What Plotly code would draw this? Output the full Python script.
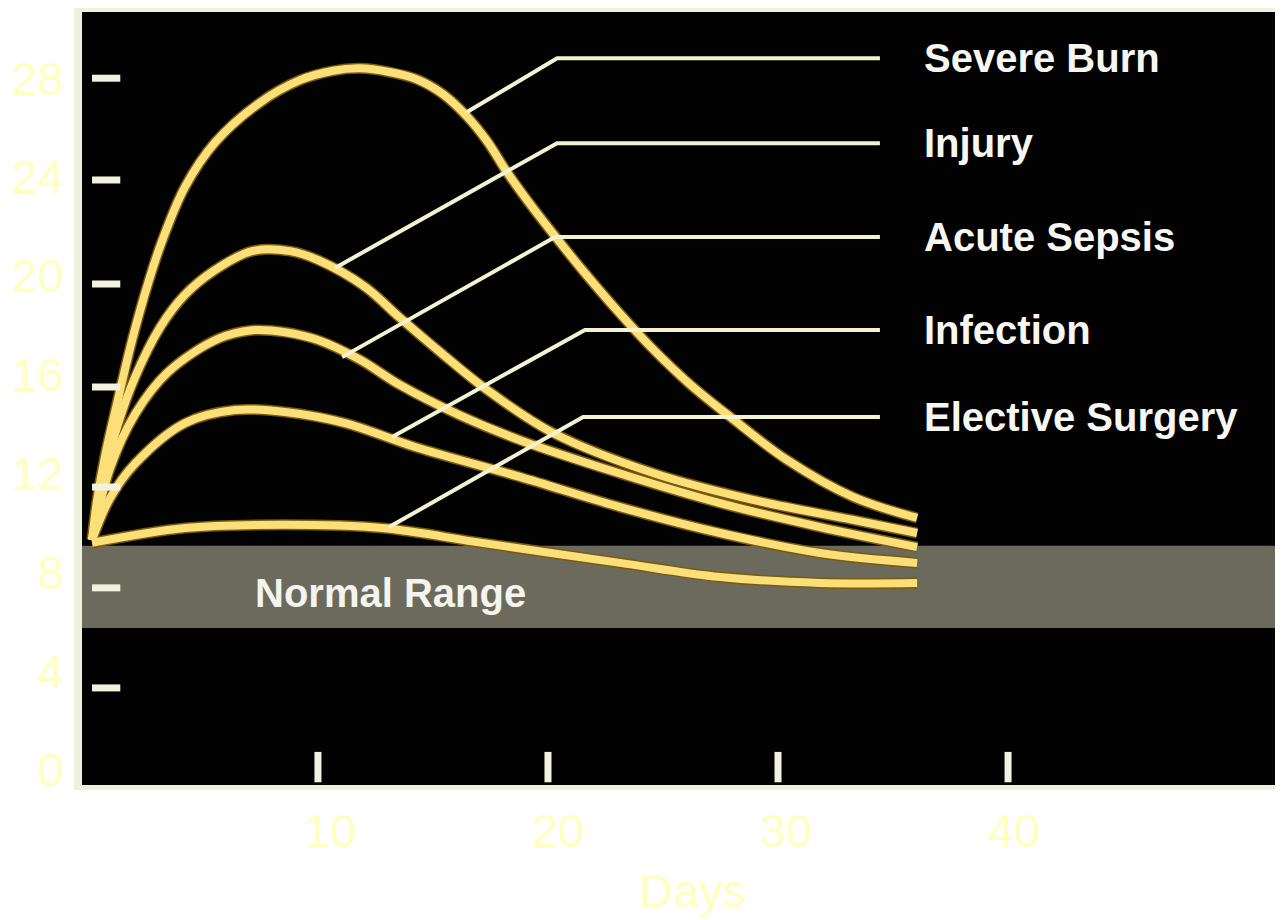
import plotly.graph_objects as go

# ---------------- data ----------------
names = ["Severe Burn", "Injury", "Acute Sepsis", "Infection", "Elective Surgery"]

days_severe_burn = [-0.44, -0.22, 0.13, 0.70, 1.32, 2.02, 2.63, 3.64, 4.96, 6.89, 8.68, 10.13, 11.30,
                    12.60, 13.82, 14.96, 16.01, 16.89, 17.76, 18.90, 20.09, 21.10, 22.59, 24.04,
                    25.80, 27.54, 30.04, 32.94, 35.75]
level_severe_burn = [9.31, 10.90, 12.70, 15.00, 17.40, 19.70, 21.40, 23.60, 25.40, 26.99, 27.92, 28.30,
                     28.40, 28.25, 27.95, 27.35, 26.45, 25.45, 24.20, 22.75, 21.35, 20.20, 18.60, 17.15,
                     15.60, 14.30, 12.55, 11.05, 10.20]

days_injury = [-0.44, 0.10, 0.70, 1.45, 2.54, 3.60, 4.90, 6.58, 8.25, 9.47, 11.54, 13.03, 14.82,
               16.89, 19.78, 24.17, 28.55, 32.94, 35.75]
level_injury = [9.31, 11.90, 14.00, 15.90, 17.90, 19.20, 20.20, 21.00, 21.00, 20.64, 19.55, 18.33, 16.92,
                15.38, 13.64, 12.02, 10.93, 10.12, 9.59]

days_acute_sepsis = [-0.44, 0.35, 1.45, 2.89, 5.09, 6.58, 8.03, 9.47, 11.32, 13.03, 15.70, 18.33,
                     22.72, 27.11, 31.49, 35.75]
level_acute_sepsis = [9.31, 12.20, 14.40, 16.10, 17.45, 17.80, 17.72, 17.40, 16.60, 15.60, 14.35, 13.35,
                      12.00, 10.80, 9.83, 9.02]

days_infection = [-0.44, 0.35, 1.45, 3.64, 5.83, 8.03, 10.66, 13.73, 18.33, 22.72, 27.11, 31.49, 35.75]
level_infection = [9.31, 11.00, 12.40, 14.04, 14.57, 14.49, 14.04, 13.07, 11.86, 10.64, 9.59, 8.78, 8.38]

days_elective_surgery = [-0.44, 3.64, 7.89, 12.28, 16.67, 22.72, 27.11, 31.49, 35.75]
level_elective_surgery = [9.19, 9.79, 9.92, 9.79, 9.19, 8.38, 7.81, 7.57, 7.57]

# leader lines: point on curve -> elbow -> horizontal end
leader_start_day = [16.01, 10.22, 10.53, 12.72, 12.59]
leader_start_level = [26.63, 20.32, 16.71, 13.48, 9.83]
leader_elbow_day = [19.96, 19.96, 19.87, 21.18, 21.10]
leader_level = [28.81, 25.37, 21.57, 17.81, 14.29]
leader_end_day = 34.12

# normal range band
normal_low = 5.75
normal_high = 9.07

# axis ticks (labels) and the printed tick marks of the original slide
x_ticks = [10, 20, 30, 40]
y_ticks = [0, 4, 8, 12, 16, 20, 24, 28]
slide_tick_days = [9.47, 19.56, 29.65, 39.74]
slide_tick_levels = [28.0, 23.88, 19.67, 15.50, 11.45, 7.37, 3.32]

# ---------------- figure ----------------
curve_days = [days_severe_burn, days_injury, days_acute_sepsis, days_infection, days_elective_surgery]
curve_levels = [level_severe_burn, level_injury, level_acute_sepsis, level_infection, level_elective_surgery]

fig = go.Figure()

# soft glow under curves
for nm, xs, ys in zip(names, curve_days, curve_levels):
    fig.add_trace(go.Scatter(x=xs, y=ys, mode="lines", line=dict(color="#7a5a10", width=11, shape="spline"),
                             hoverinfo="skip", showlegend=False))
for nm, xs, ys in zip(names, curve_days, curve_levels):
    fig.add_trace(go.Scatter(x=xs, y=ys, mode="lines", name=nm,
                             line=dict(color="#FBE07A", width=8, shape="spline"), showlegend=False))

# leader lines
for nm, sx, sy, ex, ly in zip(names, leader_start_day, leader_start_level, leader_elbow_day, leader_level):
    fig.add_trace(go.Scatter(x=[sx, ex, leader_end_day], y=[sy, ly, ly], mode="lines",
                             line=dict(color="#F3F3D4", width=4), hoverinfo="skip", showlegend=False))

label_day = 35.95
for nm, ly in zip(names, leader_level):
    fig.add_annotation(x=label_day, y=ly, text=nm, showarrow=False, xanchor="left", yanchor="middle",
                       font=dict(family="Liberation Sans, Arial, sans-serif", size=40, color="#F7F7F2",
                                 weight="bold"))

fig.add_annotation(x=6.6, y=(normal_low + normal_high) / 2 - 0.25, text="Normal Range", showarrow=False,
                   xanchor="left", yanchor="middle",
                   font=dict(family="Liberation Sans, Arial, sans-serif", size=40, color="#F4F4EE", weight="bold"))

tick_font = dict(family="Liberation Sans Narrow, Arial Narrow, Liberation Sans, sans-serif",
                 size=47, color="#FFFFC0")

fig.add_annotation(xref="paper", yref="paper", x=0.508, y=-0.136, text="Days", showarrow=False,
                   xanchor="center", yanchor="middle", font=tick_font)

shapes = [dict(type="rect", xref="paper", yref="y", x0=0, x1=1, y0=normal_low, y1=normal_high,
               fillcolor="#6b6a5c", line=dict(width=0), layer="below")]
for lv in slide_tick_levels:
    shapes.append(dict(type="line", xref="x", yref="y", x0=-0.44, x1=0.8, y0=lv, y1=lv,
                       line=dict(color="#F2F2E0", width=7), layer="above"))
for d in slide_tick_days:
    shapes.append(dict(type="line", xref="x", yref="y", x0=d, x1=d, y0=-0.5, y1=0.73,
                       line=dict(color="#F2F2E0", width=7), layer="above"))

# the page body has an 8px margin, so the figure is 8px smaller than the window
fig.update_layout(
    width=1275, height=912,
    margin=dict(l=74, r=0, t=4, b=135, autoexpand=False),
    paper_bgcolor="white", plot_bgcolor="#020202",
    shapes=shapes,
    xaxis=dict(range=[-0.88, 51.8], tickvals=x_ticks, ticktext=[str(v) for v in x_ticks],
               showgrid=False, zeroline=False, ticks="", tickfont=tick_font, ticklabelstandoff=1,
               showline=True, linecolor="#EEF2DC", linewidth=5, mirror=True, automargin=False),
    yaxis=dict(range=[-0.61, 30.68], tickvals=y_ticks, ticktext=[str(v) for v in y_ticks],
               showgrid=False, zeroline=False, ticks="", tickfont=tick_font, ticklabelstandoff=1,
               showline=True, linecolor="#EEF2DC", linewidth=8, automargin=False),
)

fig.write_html("out.html")
